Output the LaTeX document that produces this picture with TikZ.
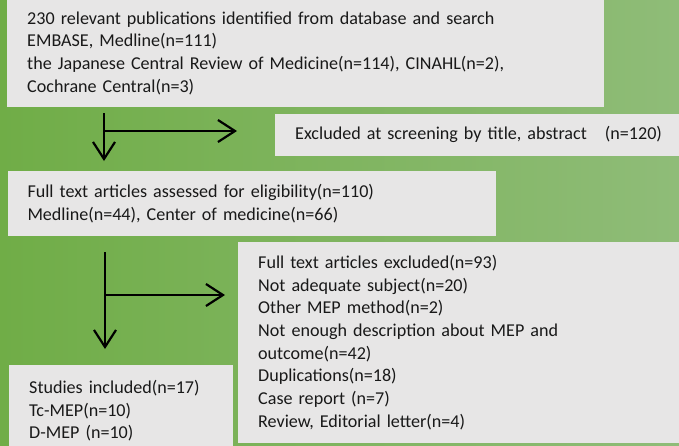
\documentclass[tikz,border=0pt]{standalone}
\usepackage{fontspec}
\setmainfont{Carlito}
\usetikzlibrary{arrows.meta}
\definecolor{bgleft}{RGB}{112,173,71}
\definecolor{bgright}{RGB}{143,188,120}
\definecolor{boxfill}{RGB}{231,230,230}
\definecolor{boxtext}{RGB}{25,25,25}
\begin{document}
\begin{tikzpicture}[x=1pt, y=-1pt]
\tikzstyle{block} = [rectangle, anchor=north west, fill=boxfill, text=boxtext, inner xsep=20pt, inner ysep=0pt, align=left, font=\fontsize{18.1pt}{22.7pt}\selectfont]
\tikzstyle{arrow} = [line width=2.2pt, -{Straight Barb[length=17pt, width=22pt]}]
%
\useasboundingbox (0,0) rectangle (679,445);
\clip (0,0) rectangle (679,445);
\shade [left color=bgleft, right color=bgright] (0,0) rectangle (679,445);
%
\node (search)   [block, text width=557pt, minimum height=107pt] at (7,-0.5) {230 relevant publications identified from database and search\\EMBASE, Medline(n=111)\\the Japanese Central Review of Medicine(n=114), CINAHL(n=2),\\Cochrane Central(n=3)};
\node (screened) [block, text width=400pt, minimum height=42.4pt] at (275,113.3) {\raisebox{-1.5pt}{Excluded at screening by title, abstract\ \ \ (n=120)}};
\node (fulltext) [block, text width=448pt, minimum height=64.7pt] at (7.3,171) {Full text articles assessed for eligibility(n=110)\\Medline(n=44), Center of medicine(n=66)};
\node (excluded) [block, text width=460pt, minimum height=200.5pt] at (238,242) {Full text articles excluded(n=93)\\Not adequate subject(n=20)\\Other MEP method(n=2)\\Not enough description about MEP and\\outcome(n=42)\\Duplications(n=18)\\Case report (n=7)\\Review, Editorial letter(n=4)};
\node (included) [block, text width=184pt, minimum height=91pt] at (9,365) {Studies included(n=17)\\Tc-MEP(n=10)\\D-MEP (n=10)};
%
\coordinate (split1)  at (104,113);
\coordinate (down1)   at (104,161);
\coordinate (branch1) at (104,131);
\coordinate (side1)   at (237,131);
\coordinate (split2)  at (105,252);
\coordinate (down2)   at (105,349);
\coordinate (branch2) at (105,295);
\coordinate (side2)   at (225,295);
%
\draw [arrow] (split1) -- (down1);
\draw [arrow] (branch1) -- (side1);
\draw [arrow] (split2) -- (down2);
\draw [arrow] (branch2) -- (side2);
\end{tikzpicture}
\end{document}
